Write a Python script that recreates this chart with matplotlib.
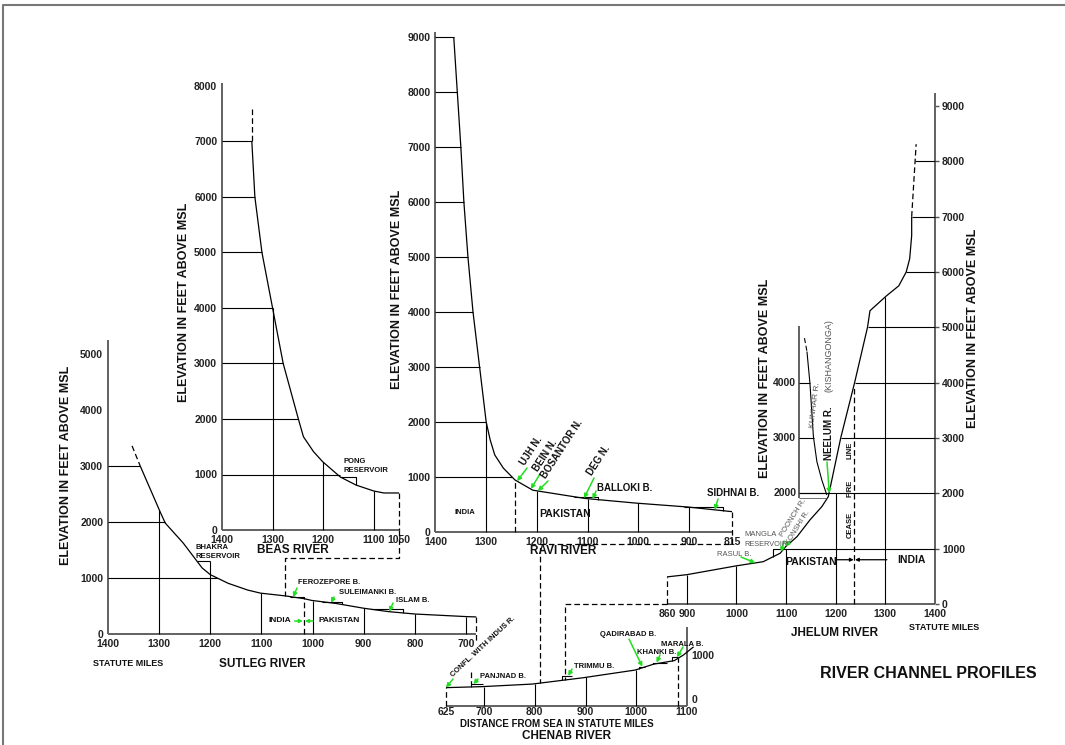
import numpy as np
import matplotlib.pyplot as plt

plt.rcParams['font.family'] = ['Liberation Sans', 'DejaVu Sans']

# ---------------- data: statute miles from sea / feet above MSL ----------------
# Sutlej
sut_mi = [1337, 1298, 1288, 1253, 1216, 1200, 1165, 1127, 1102, 1053, 1016, 1002, 954, 900, 852, 800, 698, 680]
sut_ft = [3000, 2180, 1980, 1625, 1180, 1060, 905, 785, 730, 680, 630, 600, 545, 460, 400, 357, 310, 305]
sut_head_mi = [1353, 1337]
sut_head_ft = [3360, 3000]
sut_xticks = [1400, 1300, 1200, 1100, 1000, 900, 800, 700]
sut_yticks = [0, 1000, 2000, 3000, 4000, 5000]
sut_vgrid = [1300, 1100, 1000, 900, 800, 700]
sut_hgrid = [1000, 2000, 3000]
sut_work_from = [1228, 1038, 966, 862]
sut_work_to = [1200, 1017, 943, 824]
sut_work_ft = [1300, 667, 577, 441]
sut_border = 1017
sut_beas_conf = 1054

# Beas
beas_mi = [1341, 1335, 1321, 1300, 1279, 1249, 1239, 1219, 1201, 1166, 1135, 1100, 1080, 1050]
beas_ft = [7000, 6000, 5000, 4000, 3000, 2000, 1681, 1411, 1231, 955, 810, 703, 667, 667]
beas_head_mi = [1341, 1341]
beas_head_ft = [7580, 7000]
beas_xticks = [1400, 1300, 1200, 1100, 1050]
beas_yticks = [0, 1000, 2000, 3000, 4000, 5000, 6000, 7000, 8000]
beas_vgrid = [1200, 1100]
beas_hgrid = [2000, 3000, 4000, 5000, 6000, 7000]

# Ravi
ravi_mi = [1364, 1357, 1350, 1344, 1336, 1326, 1313, 1300, 1292, 1283, 1266, 1243, 1208, 1105, 1004, 903, 815]
ravi_ft = [9000, 8000, 7000, 6000, 5000, 4000, 3000, 2000, 1670, 1400, 1160, 945, 760, 610, 525, 455, 370]
ravi_xticks = [1400, 1300, 1200, 1100, 1000, 900, 815]
ravi_yticks = [0, 1000, 2000, 3000, 4000, 5000, 6000, 7000, 8000, 9000]
ravi_vgrid = [1300, 1200, 1100, 1000, 900]
ravi_hgrid = [1000, 2000, 3000, 4000, 5000, 6000, 7000, 8000, 9000]
ravi_work_from = [1107, 862]
ravi_work_to = [1079, 833]
ravi_work_ft = [642, 460]
ravi_border = 1243
ravi_nullahs = ['UJH N.', 'BEIN N.', 'BOSANTOR N.', 'DEG N.']
ravi_nullah_mi = [1239, 1212, 1198, 1107]

# Chenab
chen_mi = [625, 697, 795, 896, 998, 1034, 1075, 1093, 1113]
chen_ft = [360, 380, 430, 555, 705, 820, 890, 1000, 1160]
chen_xticks = [625, 700, 800, 900, 1000, 1100]
chen_yticks = [0, 1000]
chen_vgrid = [700, 800, 900, 1000]
chen_work_from = [674, 853, 1006, 1033, 1070]
chen_work_to = [697, 873, 1017, 1060, 1083]
chen_work_ft = [430, 590, 770, 850, 955]
chen_ravi_conf = 810
chen_jhelum_conf = 860

# Jhelum
jh_mi = [860, 900, 1000, 1054, 1074, 1088, 1099, 1122, 1148, 1172, 1185, 1210, 1238, 1264, 1269, 1301, 1327, 1342, 1349, 1353, 1353]
jh_ft = [490, 530, 690, 765, 855, 917, 1036, 1217, 1519, 1760, 1940, 3000, 4000, 5000, 5300, 5560, 5750, 6000, 6240, 6660, 7000]
jh_head_mi = [1353, 1362]
jh_head_ft = [7000, 8310]
jh_xticks = [860, 900, 1000, 1100, 1200, 1300, 1400]
jh_yticks = [0, 1000, 2000, 3000, 4000, 5000, 6000, 7000, 8000, 9000]
jh_vgrid = [900, 1000, 1300]
jh_hgrid = [3000, 4000, 5000, 6000, 7000, 8000]
jh_mangla = 1074
jh_ceasefire = 1237
kun_mi = [1142, 1148, 1155, 1162, 1172, 1182]
kun_ft = [4563, 3990, 3025, 2573, 2240, 1970]
kun_head_mi = [1137, 1142]
kun_head_ft = [4805, 4563]
kun_axis = 1126
kun_yticks = [2000, 3000, 4000]

# ---------------- figure ----------------
W, H = 1065, 745
fig = plt.figure(figsize=(W / 100, H / 100), dpi=100)
GREEN = '#22dd22'
INK = '#111111'
GREY = '#555555'
DASH = (0, (4.5, 2.5))


def panel(xlim, ylim, left, right, bottom, top):
    ax = fig.add_axes([left / W, 1 - bottom / H, (right - left) / W, (bottom - top) / H])
    ax.set_xlim(*xlim)
    ax.set_ylim(*ylim)
    ax.patch.set_visible(False)
    for s in ax.spines.values():
        s.set_visible(False)
    ax.tick_params(length=0, pad=3.5, colors='#222222')
    return ax


def ticks(ax, xt, yt, right=False):
    ax.set_xticks(xt, [str(t) for t in xt], fontsize=7.5, fontweight='bold')
    ax.set_yticks(yt, [str(t) for t in yt], fontsize=7.5, fontweight='bold')
    if right:
        ax.yaxis.tick_right()


def at(mi, ft, m):
    o = np.argsort(mi)
    return float(np.interp(m, np.array(mi)[o], np.array(ft)[o]))


def cross(mi, ft, lvl):
    o = np.argsort(ft, kind='stable')
    return float(np.interp(lvl, np.array(ft)[o], np.array(mi)[o]))


def line(ax, xs, ys, dashed=False, lw=0.9, color='k'):
    ax.plot(xs, ys, color=color, lw=lw, ls=DASH if dashed else '-', clip_on=False,
            solid_capstyle='butt')


def spine(ax, xs, ys):
    ax.plot(xs, ys, color='#555555', lw=1.3, clip_on=False, solid_capstyle='butt')


def label(x, y, s, size=7, weight='bold', color=INK, **kw):
    kw.setdefault('ha', 'center')
    kw.setdefault('va', 'center')
    fig.text(x / W, 1 - y / H, s, fontsize=size, fontweight=weight, color=color, **kw)


def point(ax, m, e, tx, ty, color=GREEN):
    ax.annotate('', xy=(m, e), xytext=(tx, H - ty), textcoords='figure pixels',
                annotation_clip=False,
                arrowprops=dict(arrowstyle='-|>', color=color, lw=1.1, mutation_scale=6,
                                shrinkA=0, shrinkB=0))


def steps(ax, mi, ft, a, b, lvl, down_at_end=True):
    for m1, m2, e in zip(a, b, lvl):
        if down_at_end:
            line(ax, [cross(mi, ft, e) if at(mi, ft, m1) < e else m1, m2, m2], [e, e, at(mi, ft, m2)], lw=0.8)
        else:
            line(ax, [m1, m1, m2], [at(mi, ft, m1), e, e], lw=0.8)


# ---------------- Sutlej ----------------
ax_s = panel((1400, 700), (0, 5000), 108, 466, 634, 354)
ticks(ax_s, sut_xticks, sut_yticks)
spine(ax_s, [1400, 1400], [0, 5250])
spine(ax_s, [1400, 680], [0, 0])
line(ax_s, sut_mi, sut_ft)
line(ax_s, sut_head_mi, sut_head_ft, dashed=True)
for lvl in sut_hgrid:
    line(ax_s, [1400, cross(sut_mi, sut_ft, lvl)], [lvl, lvl], lw=0.8)
for m in sut_vgrid:
    line(ax_s, [m, m], [0, at(sut_mi, sut_ft, m)], lw=0.8)
line(ax_s, [1200, 1200], [0, sut_work_ft[0]], lw=0.8)
line(ax_s, [cross(sut_mi, sut_ft, sut_work_ft[0]), 1200], [sut_work_ft[0]] * 2, lw=0.8)
steps(ax_s, sut_mi, sut_ft, sut_work_from[1:], sut_work_to[1:], sut_work_ft[1:])
line(ax_s, [sut_border] * 2, [0, at(sut_mi, sut_ft, sut_border)], dashed=True)
line(ax_s, [680, 680], [at(sut_mi, sut_ft, 680), -150], dashed=True)
ax_s.annotate('', xy=(1019, 232), xytext=(1035, 232), annotation_clip=False,
              arrowprops=dict(arrowstyle='-|>', color=GREEN, lw=1.1, mutation_scale=5, shrinkA=0, shrinkB=0))
ax_s.annotate('', xy=(1015, 232), xytext=(999, 232), annotation_clip=False,
              arrowprops=dict(arrowstyle='-|>', color=GREEN, lw=1.1, mutation_scale=5, shrinkA=0, shrinkB=0))
point(ax_s, 1038, at(sut_mi, sut_ft, 1038), 297, 588)
point(ax_s, 964, at(sut_mi, sut_ft, 964), 334, 597)
point(ax_s, 850, at(sut_mi, sut_ft, 850), 393, 603)

label(66, 465, 'ELEVATION IN FEET ABOVE MSL', size=9, rotation=90)
label(195, 552, 'BHAKRA\nRESERVOIR', size=5.5, ha='left', linespacing=1.3)
label(298, 583, 'FEROZEPORE B.', size=5.5, ha='left')
label(339, 593, 'SULEIMANKI B.', size=5.5, ha='left')
label(396, 601, 'ISLAM B.', size=5.5, ha='left')
label(280, 621, 'INDIA', size=6)
label(339, 621, 'PAKISTAN', size=6)
label(128, 663, 'STATUTE MILES', size=6.5)
label(262, 664, 'SUTLEG RIVER', size=8.5)

# ---------------- Beas ----------------
ax_b = panel((1400, 1050), (0, 8000), 222, 399, 530, 86)
ticks(ax_b, beas_xticks, beas_yticks)
spine(ax_b, [1400, 1400], [0, 8060])
spine(ax_b, [1400, 1050], [0, 0])
line(ax_b, beas_mi, beas_ft)
line(ax_b, beas_head_mi, beas_head_ft, dashed=True)
for lvl in beas_hgrid:
    line(ax_b, [1400, cross(beas_mi, beas_ft, lvl)], [lvl, lvl], lw=0.8)
line(ax_b, [1400, 1166], [1000, 1000], lw=0.8)
line(ax_b, [1166, 1135, 1135], [950, 950, at(beas_mi, beas_ft, 1135)], lw=0.8)
line(ax_b, [1300, 1300], [0, 4000], lw=0.8)
for m in beas_vgrid:
    line(ax_b, [m, m], [0, at(beas_mi, beas_ft, m)], lw=0.8)
line(ax_b, [1050, 1050], [at(beas_mi, beas_ft, 1050), 0], dashed=True)

label(184, 302, 'ELEVATION IN FEET ABOVE MSL', size=9, rotation=90)
label(344, 466, 'PONG\nRESERVOIR', size=5.5, ha='left', linespacing=1.3)
label(293, 550, 'BEAS RIVER', size=8.5)

# ---------------- Ravi ----------------
ax_r = panel((1400, 815), (0, 9000), 435.5, 732, 532, 37)
ticks(ax_r, ravi_xticks, ravi_yticks)
spine(ax_r, [1400, 1400], [0, 9100])
spine(ax_r, [1400, 815], [0, 0])
line(ax_r, ravi_mi, ravi_ft)
for lvl in ravi_hgrid:
    line(ax_r, [1400, cross(ravi_mi, ravi_ft, lvl)], [lvl, lvl], lw=0.8)
for m in ravi_vgrid:
    line(ax_r, [m, m], [0, at(ravi_mi, ravi_ft, m)], lw=0.8)
steps(ax_r, ravi_mi, ravi_ft, ravi_work_from, ravi_work_to, ravi_work_ft)
line(ax_r, [ravi_border] * 2, [0, at(ravi_mi, ravi_ft, ravi_border)], dashed=True)
for name, m, (tx, ty) in zip(ravi_nullahs, ravi_nullah_mi,
                             [(527, 467), (540, 473), (548, 480), (594, 477)]):
    label(tx, ty, name, size=7, ha='left', va='bottom', rotation=57, rotation_mode='anchor')
    point(ax_r, m, at(ravi_mi, ravi_ft, m), tx, ty + 1)
point(ax_r, 1090, at(ravi_mi, ravi_ft, 1090), 596, 491)
point(ax_r, 849, at(ravi_mi, ravi_ft, 849), 718, 499)

label(397, 289, 'ELEVATION IN FEET ABOVE MSL', size=9, rotation=90)
label(465, 513, 'INDIA', size=5.5)
label(565, 514, 'PAKISTAN', size=7.5)
label(597, 488, 'BALLOKI B.', size=7, ha='left')
label(707, 493, 'SIDHNAI B.', size=7, ha='left')
label(563, 551, 'RAVI RIVER', size=8.5)

# ---------------- Chenab ----------------
ax_c = panel((625, 1100), (0, 1000), 446, 687, 706, 655)
ticks(ax_c, chen_xticks, [])
ax_c.tick_params(axis='x', pad=0.5)
for v, dy in zip(chen_yticks, [4, -1]):
    ax_c.annotate(str(v), xy=(1100, v), xytext=(3, dy), textcoords='offset points',
                  ha='left', va='center', fontsize=7.5, fontweight='bold', color='#222222',
                  annotation_clip=False)
spine(ax_c, [1100, 1100], [0, 1550])
spine(ax_c, [625, 1100], [0, 0])
line(ax_c, chen_mi, chen_ft)
for m in chen_vgrid:
    line(ax_c, [m, m], [0, at(chen_mi, chen_ft, m)], lw=0.8)
line(ax_c, [625, 625], [0, at(chen_mi, chen_ft, 625)], dashed=True)
line(ax_c, [1083, 1083], [0, at(chen_mi, chen_ft, 1083)], dashed=True)
steps(ax_c, chen_mi, chen_ft, chen_work_from, chen_work_to, chen_work_ft, down_at_end=False)
point(ax_c, 625, at(chen_mi, chen_ft, 625), 453, 679)
point(ax_c, 679, chen_work_ft[0], 478, 679)
point(ax_c, 866, chen_work_ft[1], 572, 669)
point(ax_c, 1012, chen_work_ft[2], 629, 639)
point(ax_c, 1040, chen_work_ft[3], 660, 655)
point(ax_c, 1080, chen_work_ft[4], 683, 647)

label(454, 678, 'CONFL. WITH INDUS R.', size=5.5, ha='left', va='bottom', rotation=43,
      rotation_mode='anchor')
label(480, 677, 'PANJNAD B.', size=5.5, ha='left')
label(574, 667, 'TRIMMU B.', size=5.5, ha='left')
label(600, 634, 'QADIRABAD B.', size=5.5, ha='left')
label(637, 652, 'KHANKI B.', size=5.5, ha='left')
label(661, 644, 'MARALA B.', size=5.5, ha='left')
label(557, 724, 'DISTANCE FROM SEA IN STATUTE MILES', size=7)
label(567, 736, 'CHENAB RIVER', size=8.5)

# ---------------- Jhelum ----------------
ax_j = panel((860, 1400), (0, 9000), 667, 935, 604, 106)
ticks(ax_j, jh_xticks, jh_yticks, right=True)
ax_j.tick_params(axis='y', length=3, width=1, color='#555555', direction='out', pad=2)
spine(ax_j, [1400, 1400], [0, 9230])
spine(ax_j, [860, 1400], [0, 0])
line(ax_j, jh_mi, jh_ft)
line(ax_j, jh_head_mi, jh_head_ft, dashed=True)
line(ax_j, kun_mi, kun_ft, lw=0.8)
line(ax_j, kun_head_mi, kun_head_ft, dashed=True, lw=0.8)
for lvl in jh_hgrid:
    m = cross(jh_mi, jh_ft, lvl) if lvl <= 7000 else cross(jh_head_mi, jh_head_ft, lvl)
    line(ax_j, [m, 1400], [lvl, lvl], lw=0.8)
line(ax_j, [jh_mangla, jh_mangla, 1400], [at(jh_mi, jh_ft, jh_mangla), 1000, 1000], lw=0.8)
line(ax_j, [kun_axis, 1400], [2000, 2000], lw=0.8)
line(ax_j, [kun_axis, 1182], [1920, 1920], lw=0.6, color=GREY)
spine(ax_j, [kun_axis, kun_axis], [1920, 5020])
for lvl in kun_yticks:
    line(ax_j, [kun_axis, cross(kun_mi, kun_ft, lvl)], [lvl, lvl], lw=0.8)
    ax_j.annotate(str(lvl), xy=(kun_axis, lvl), xytext=(-2, 0), textcoords='offset points',
                  ha='right', va='center', fontsize=7.5, fontweight='bold', color='#222222',
                  annotation_clip=False)
for m in jh_vgrid:
    line(ax_j, [m, m], [0, at(jh_mi, jh_ft, m)], lw=0.8)
line(ax_j, [1100, 1100], [0, 1000], lw=0.8)
line(ax_j, [1200, 1200], [0, 2000], lw=0.8)
line(ax_j, [860, 860], [0, at(jh_mi, jh_ft, 860)], dashed=True)
line(ax_j, [jh_ceasefire] * 2, [0, 3940], dashed=True)
ax_j.annotate('', xy=(jh_ceasefire - 1, 800), xytext=(1200, 800), annotation_clip=False,
              arrowprops=dict(arrowstyle='-|>', color='k', lw=0.9, mutation_scale=5, shrinkA=0, shrinkB=0))
ax_j.annotate('', xy=(jh_ceasefire + 2, 800), xytext=(1303, 800), annotation_clip=False,
              arrowprops=dict(arrowstyle='-|>', color='k', lw=0.9, mutation_scale=5, shrinkA=0, shrinkB=0))
point(ax_j, 1038, at(jh_mi, jh_ft, 1038), 741, 557)
point(ax_j, 1090, at(jh_mi, jh_ft, 1090), 784, 541)
point(ax_j, 1099, at(jh_mi, jh_ft, 1099), 790, 541)
point(ax_j, 1187, 2000, 827, 462)

label(973, 328, 'ELEVATION IN FEET ABOVE MSL', size=9, rotation=90)
label(765, 378, 'ELEVATION IN FEET ABOVE MSL', size=9, rotation=90)
label(815, 405, 'KUNHAR R.', size=6, weight='normal', color=GREY, rotation=83)
label(829, 433, 'NEELUM R.', size=7, rotation=90)
label(829, 356, '(KISHANGONGA)', size=6.5, weight='normal', color=GREY, rotation=90)
label(785, 538, 'POONCH R.', size=5.5, weight='normal', color=GREY, ha='left', va='bottom',
      rotation=58, rotation_mode='anchor')
label(791, 546, 'KONSHI R.', size=5.5, weight='normal', color=GREY, ha='left', va='bottom',
      rotation=58, rotation_mode='anchor')
label(744, 534, 'MANGLA', size=5.5, weight='normal', color=GREY, ha='left')
label(744, 544, 'RESERVOIR', size=5.3, weight='normal', color=GREY, ha='left')
label(717, 555, 'RASUL B.', size=5.5, weight='normal', color=GREY, ha='left')
label(850, 525, 'CEASE', size=5.5, rotation=90)
label(850, 488, 'FIRE', size=5.5, rotation=90)
label(850, 450, 'LINE', size=5.5, rotation=90)
label(811, 562, 'PAKISTAN', size=7.5)
label(911, 560, 'INDIA', size=7.5)
label(835, 633, 'JHELUM RIVER', size=8.5)
label(944, 628, 'STATUTE MILES', size=6.5)
label(928, 673, 'RIVER CHANNEL PROFILES', size=11.5)

# ---------------- links between the profiles ----------------
ov = fig.add_axes([0, 0, 1, 1])
ov.set_xlim(0, W)
ov.set_ylim(H, 0)
ov.axis('off')


def px(ax, x, y):
    d = ax.transData.transform((x, y))
    return d[0], H - d[1]


def link(pts):
    ov.plot([p[0] for p in pts], [p[1] for p in pts], color='k', lw=0.9, ls=DASH)


# Beas joins Sutlej
b0 = px(ax_b, 1050, 0)
b1 = px(ax_b, 1050, -505)
s1 = px(ax_s, sut_beas_conf, at(sut_mi, sut_ft, sut_beas_conf))
link([b0, b1, (s1[0], b1[1]), s1])
# Sutlej joins Chenab at Panjnad
c0 = px(ax_c, chen_work_from[0], chen_work_ft[0])
link([(c0[0], c0[1] - 12), c0])
# Ravi joins Chenab
r0 = px(ax_r, 815, at(ravi_mi, ravi_ft, 815))
r1 = px(ax_r, 815, -218)
c1 = px(ax_c, chen_ravi_conf, at(chen_mi, chen_ft, chen_ravi_conf))
link([r0, r1, (c1[0], r1[1]), c1])
# Jhelum joins Chenab at Trimmu
j0 = px(ax_j, 860, 0)
c2 = px(ax_c, chen_jhelum_conf, at(chen_mi, chen_ft, chen_jhelum_conf))
link([j0, (c2[0], j0[1]), c2])

# frame
ov.plot([3, 3, W], [H, 5, 5], color='#777777', lw=1.5)

fig.savefig('out.png', dpi=100)
